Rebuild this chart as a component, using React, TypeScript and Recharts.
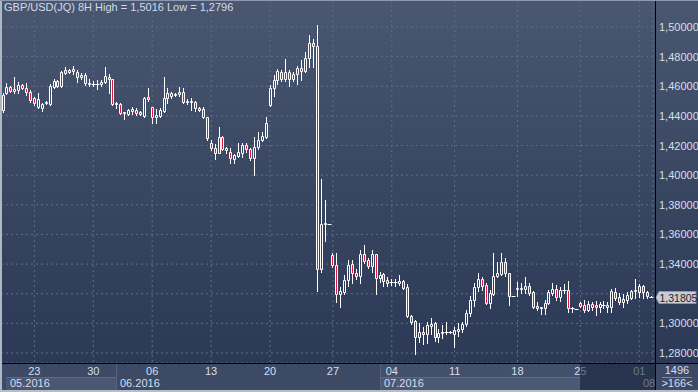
import { ComposedChart, Bar, XAxis, YAxis, CartesianGrid, ReferenceLine } from "recharts"

const FONT = "'Liberation Sans Narrow', 'Arial Narrow', 'Liberation Sans', Arial, sans-serif"

// GBP/USD 8H свечи: open / high / low / close
const opens = [
  1.4440, 1.4555, 1.4595, 1.4568, 1.4575, 1.4608, 1.4588, 1.4561, 1.4521, 1.4460,
  1.4453, 1.4487, 1.4480, 1.4595, 1.4636, 1.4602, 1.4690, 1.4696, 1.4703, 1.4696,
  1.4662, 1.4676, 1.4615, 1.4612, 1.4617, 1.4612, 1.4629, 1.4662, 1.4649, 1.4480,
  1.4480, 1.4420, 1.4413, 1.4433, 1.4440, 1.4427, 1.4400, 1.4527, 1.4460, 1.4393,
  1.4400, 1.4433, 1.4520, 1.4534, 1.4541, 1.4548, 1.4561, 1.4494, 1.4500, 1.4494,
  1.4453, 1.4447, 1.4393, 1.4217, 1.4183, 1.4150, 1.4258, 1.4170, 1.4156, 1.4109,
  1.4129, 1.4150, 1.4204, 1.4177, 1.4116, 1.4190, 1.4237, 1.4258, 1.4473, 1.4588,
  1.4642, 1.4696, 1.4649, 1.4696, 1.4649, 1.4683, 1.4723, 1.4703, 1.4791, 1.4892,
  1.4872, 1.3367, 1.3670, 1.3670, 1.3461, 1.3394, 1.3198, 1.3211, 1.3292, 1.3400,
  1.3340, 1.3319, 1.3468, 1.3427, 1.3387, 1.3468, 1.3306, 1.3333, 1.3292, 1.3279,
  1.3279, 1.3272, 1.3286, 1.3245, 1.3049, 1.3015, 1.2907, 1.2941, 1.2928, 1.2982,
  1.3002, 1.2907, 1.2934, 1.2941, 1.2942, 1.2928, 1.2948, 1.2962, 1.2995, 1.3070,
  1.3157, 1.3245, 1.3299, 1.3259, 1.3137, 1.3198, 1.3319, 1.3333, 1.3414, 1.3340,
  1.3184, 1.3238, 1.3232, 1.3232, 1.3252, 1.3211, 1.3117, 1.3103, 1.3103, 1.3137,
  1.3205, 1.3232, 1.3178, 1.3225, 1.3225, 1.3103, 1.3096, 1.3137, 1.3123, 1.3090,
  1.3130, 1.3123, 1.3110, 1.3123, 1.3123, 1.3110, 1.3211, 1.3178, 1.3144, 1.3157,
  1.3171, 1.3218, 1.3211, 1.3252, 1.3211, 1.3180,
]
const highs = [
  1.4555, 1.4622, 1.4602, 1.4662, 1.4629, 1.4615, 1.4622, 1.4575, 1.4527, 1.4555,
  1.4487, 1.4500, 1.4615, 1.4649, 1.4642, 1.4703, 1.4730, 1.4717, 1.4737, 1.4710,
  1.4690, 1.4690, 1.4649, 1.4636, 1.4642, 1.4642, 1.4730, 1.4683, 1.4652, 1.4494,
  1.4487, 1.4427, 1.4447, 1.4460, 1.4453, 1.4433, 1.4527, 1.4588, 1.4463, 1.4447,
  1.4453, 1.4662, 1.4588, 1.4561, 1.4555, 1.4595, 1.4588, 1.4514, 1.4520, 1.4500,
  1.4460, 1.4460, 1.4396, 1.4237, 1.4210, 1.4325, 1.4264, 1.4190, 1.4183, 1.4143,
  1.4217, 1.4217, 1.4217, 1.4183, 1.4258, 1.4292, 1.4292, 1.4393, 1.4608, 1.4676,
  1.4717, 1.4710, 1.4784, 1.4710, 1.4696, 1.4737, 1.4777, 1.4831, 1.4946, 1.4919,
  1.5016, 1.3974, 1.3832, 1.3672, 1.3475, 1.3475, 1.3245, 1.3326, 1.3427, 1.3427,
  1.3367, 1.3495, 1.3529, 1.3441, 1.3495, 1.3471, 1.3346, 1.3340, 1.3313, 1.3299,
  1.3299, 1.3326, 1.3292, 1.3265, 1.3056, 1.3022, 1.3002, 1.2975, 1.3009, 1.3036,
  1.3009, 1.2962, 1.2988, 1.3009, 1.2948, 1.2975, 1.3002, 1.3009, 1.3090, 1.3184,
  1.3272, 1.3340, 1.3313, 1.3272, 1.3225, 1.3475, 1.3414, 1.3475, 1.3441, 1.3343,
  1.3186, 1.3279, 1.3272, 1.3313, 1.3272, 1.3218, 1.3144, 1.3112, 1.3157, 1.3225,
  1.3272, 1.3259, 1.3245, 1.3265, 1.3286, 1.3110, 1.3098, 1.3144, 1.3157, 1.3150,
  1.3144, 1.3150, 1.3144, 1.3150, 1.3144, 1.3232, 1.3238, 1.3205, 1.3198, 1.3211,
  1.3225, 1.3299, 1.3265, 1.3259, 1.3218, 1.3186,
]
const lows = [
  1.4427, 1.4548, 1.4561, 1.4555, 1.4555, 1.4582, 1.4541, 1.4494, 1.4473, 1.4453,
  1.4433, 1.4480, 1.4473, 1.4588, 1.4595, 1.4595, 1.4683, 1.4690, 1.4683, 1.4629,
  1.4649, 1.4608, 1.4602, 1.4602, 1.4582, 1.4602, 1.4622, 1.4555, 1.4473, 1.4453,
  1.4413, 1.4379, 1.4406, 1.4413, 1.4406, 1.4406, 1.4393, 1.4500, 1.4352, 1.4352,
  1.4393, 1.4427, 1.4487, 1.4520, 1.4534, 1.4534, 1.4487, 1.4480, 1.4440, 1.4433,
  1.4433, 1.4386, 1.4237, 1.4170, 1.4109, 1.4148, 1.4170, 1.4150, 1.4082, 1.4082,
  1.4123, 1.4123, 1.4156, 1.4102, 1.4001, 1.4177, 1.4231, 1.4251, 1.4467, 1.4534,
  1.4615, 1.4636, 1.4636, 1.4602, 1.4636, 1.4615, 1.4642, 1.4696, 1.4730, 1.4730,
  1.3218, 1.3346, 1.3556, 1.3668, 1.3380, 1.3144, 1.3110, 1.3198, 1.3252, 1.3272,
  1.3299, 1.3272, 1.3407, 1.3373, 1.3346, 1.3198, 1.3279, 1.3252, 1.3252, 1.3259,
  1.3252, 1.3259, 1.3232, 1.3042, 1.2996, 1.2796, 1.2874, 1.2860, 1.2867, 1.2928,
  1.2880, 1.2873, 1.2900, 1.2930, 1.2936, 1.2840, 1.2914, 1.2941, 1.2982, 1.3049,
  1.3117, 1.3218, 1.3225, 1.3130, 1.3103, 1.3191, 1.3313, 1.3326, 1.3319, 1.3123,
  1.3182, 1.3184, 1.3205, 1.3205, 1.3191, 1.3103, 1.3090, 1.3063, 1.3063, 1.3130,
  1.3191, 1.3157, 1.3150, 1.3205, 1.3076, 1.3076, 1.3094, 1.3110, 1.3076, 1.3083,
  1.3090, 1.3056, 1.3076, 1.3103, 1.3076, 1.3076, 1.3157, 1.3130, 1.3110, 1.3137,
  1.3164, 1.3171, 1.3178, 1.3171, 1.3171, 1.3176,
]
const closes = [
  1.4540, 1.4595, 1.4568, 1.4582, 1.4608, 1.4588, 1.4561, 1.4507, 1.4487, 1.4514,
  1.4480, 1.4494, 1.4602, 1.4636, 1.4602, 1.4696, 1.4710, 1.4710, 1.4717, 1.4662,
  1.4676, 1.4622, 1.4622, 1.4615, 1.4615, 1.4629, 1.4669, 1.4649, 1.4480, 1.4487,
  1.4420, 1.4425, 1.4440, 1.4447, 1.4420, 1.4413, 1.4520, 1.4514, 1.4393, 1.4406,
  1.4440, 1.4520, 1.4555, 1.4555, 1.4548, 1.4561, 1.4494, 1.4500, 1.4494, 1.4453,
  1.4440, 1.4393, 1.4251, 1.4183, 1.4150, 1.4258, 1.4177, 1.4183, 1.4116, 1.4136,
  1.4156, 1.4204, 1.4177, 1.4116, 1.4190, 1.4237, 1.4264, 1.4352, 1.4588, 1.4642,
  1.4703, 1.4649, 1.4696, 1.4649, 1.4683, 1.4723, 1.4703, 1.4791, 1.4892, 1.4872,
  1.3367, 1.3670, 1.3677, 1.3670, 1.3394, 1.3198, 1.3218, 1.3292, 1.3394, 1.3340,
  1.3319, 1.3468, 1.3420, 1.3387, 1.3468, 1.3306, 1.3326, 1.3286, 1.3272, 1.3280,
  1.3276, 1.3286, 1.3238, 1.3049, 1.3009, 1.2907, 1.2941, 1.2928, 1.2988, 1.2996,
  1.2907, 1.2934, 1.2941, 1.2942, 1.2942, 1.2955, 1.2962, 1.2995, 1.3070, 1.3157,
  1.3245, 1.3299, 1.3252, 1.3137, 1.3205, 1.3319, 1.3340, 1.3414, 1.3340, 1.3184,
  1.3184, 1.3232, 1.3238, 1.3252, 1.3205, 1.3110, 1.3103, 1.3110, 1.3137, 1.3211,
  1.3232, 1.3178, 1.3225, 1.3226, 1.3103, 1.3102, 1.3096, 1.3117, 1.3090, 1.3130,
  1.3110, 1.3110, 1.3130, 1.3124, 1.3110, 1.3218, 1.3171, 1.3144, 1.3164, 1.3191,
  1.3218, 1.3225, 1.3252, 1.3211, 1.3184, 1.31805,
]

// подписи оси времени (индекс свечи -> число месяца)
const dateTickIdx = [8, 23, 38, 53, 68, 84, 99, 115, 131, 147, 162]
const dateTickLabels = ["23", "30", "06", "13", "20", "27", "04", "11", "18", "25", "01"]
const priceTicks = [1.28, 1.3, 1.32, 1.34, 1.36, 1.38, 1.4, 1.42, 1.44, 1.46, 1.48, 1.5]

const lastPrice = 1.31805
const totalBars = 1496
const shownBars = 166

const data = opens.map((o, i) => ({ i, o, h: highs[i], l: lows[i], c: closes[i] }))

const fmt = (v: number) => v.toFixed(5).replace(".", ",")

const TXT = "#d6dfec"
const RED = "#e2173d"
const PLOT_RIGHT = 653

// свеча рисуется поверх диапазона low..high, который считает сам Bar
const Candle = (props: any) => {
  const { x, y, width, height, payload } = props
  if (x == null || y == null) return null
  const { o, h, l, c } = payload
  const k = h > l ? height / (h - l) : 0
  const yOf = (v: number) => y + (h - v) * k
  const left = Math.round(x + width / 2 - 1.5)
  const mid = left + 1.5
  const yHigh = Math.round(y)
  const yLow = Math.round(y + height)
  const top = Math.round(yOf(Math.max(o, c)))
  const bot = Math.round(yOf(Math.min(o, c)))
  const up = c >= o

  if (bot - top < 1) {
    return (
      <g>
        <line x1={mid} x2={mid} y1={yHigh} y2={yLow + 1} stroke="#fff" strokeWidth={1} />
        <line x1={left - 0.5} x2={left + 3.5} y1={top + 0.5} y2={top + 0.5} stroke="#fff" strokeWidth={1} />
      </g>
    )
  }
  return (
    <g>
      <line x1={mid} x2={mid} y1={yHigh} y2={top} stroke="#fff" strokeWidth={1} />
      <line x1={mid} x2={mid} y1={bot + 1} y2={yLow + 1} stroke="#fff" strokeWidth={1} />
      <path
        d={`M${left + 0.5},${top + 0.5}H${left + 2.5}V${bot + 0.5}H${left + 0.5}Z`}
        fill={up ? "none" : RED}
        stroke="#fff"
        strokeWidth={1}
      />
    </g>
  )
}

const DateTick = (props: any) => {
  const { x, y, payload } = props
  const k = dateTickIdx.indexOf(payload.value)
  if (k < 0) return null
  return (
    <text x={x} y={y + 12} textAnchor="middle" fill={TXT} fontSize={11} fontFamily={FONT}>
      {dateTickLabels[k]}
    </text>
  )
}

// подпись под ярлыком последней цены не видна
const PriceTick = (props: any) => {
  const { x, y, payload } = props
  if (Math.abs(payload.value - lastPrice) < 0.004) return null
  return (
    <text x={x} y={y + 4} textAnchor="start" fill={TXT} fontSize={11} fontFamily={FONT}>
      {fmt(payload.value)}
    </text>
  )
}

const PriceTag = (props: any) => {
  const vb = props.viewBox
  if (!vb) return null
  const x0 = PLOT_RIGHT
  const y = Math.round(vb.y) + 0.5
  return (
    <g>
      <path
        d={`M${x0 + 3},${y} L${x0 + 6},${y - 6} H${x0 + 43} V${y + 6} H${x0 + 6} Z`}
        fill="#c9ccd2"
        stroke="#8e97a6"
        strokeWidth={1}
      />
      <text x={x0 + 6.5} y={y + 4} fill="#1c2435" fontSize={10.5} fontFamily={FONT}>
        {fmt(lastPrice)}
      </text>
    </g>
  )
}

export default function App() {
  return (
    <div
      style={{
        position: "fixed",
        left: 0,
        top: 0,
        width: 698,
        height: 392,
        overflow: "hidden",
        background: "linear-gradient(180deg, #4a5771 0%, #3a4762 45%, #2a3755 100%)",
        fontFamily: FONT,
      }}
    >
      {/* нижняя панель времени */}
      <div style={{ position: "absolute", left: 0, top: 363, width: 698, height: 29, background: "#3d4a66" }} />
      <div style={{ position: "absolute", left: 380, top: 364, width: 200, height: 26, background: "#43506c" }} />
      <div style={{ position: "absolute", left: 6, top: 377, width: 110, height: 13, background: "#4a5672", borderTop: "1px solid #5e6a85", boxSizing: "border-box" }} />
      <div style={{ position: "absolute", left: 380, top: 377, width: 200, height: 13, background: "#4c5975", borderTop: "1px solid #5e6a85", boxSizing: "border-box" }} />
      <div style={{ position: "absolute", left: 116, top: 364, width: 1, height: 26, background: "#58647e" }} />
      <div style={{ position: "absolute", left: 380, top: 364, width: 1, height: 26, background: "#58647e" }} />

      <div style={{ position: "absolute", left: 0, top: 0 }}>
        <ComposedChart width={698} height={392} data={data} margin={{ top: 0, right: 0, bottom: 0, left: 1 }} barCategoryGap={0}>
          <CartesianGrid stroke="#5f6d8a" strokeDasharray="2 3" />
          <XAxis
            dataKey="i"
            type="category"
            ticks={dateTickIdx}
            interval={0}
            height={29}
            tickLine={false}
            axisLine={false}
            tickSize={0}
            tickMargin={0}
            tick={<DateTick />}
          />
          <YAxis
            orientation="right"
            type="number"
            width={45}
            domain={[1.27325, 1.51822]}
            allowDataOverflow
            ticks={priceTicks}
            interval={0}
            tickLine={false}
            axisLine={false}
            tickSize={0}
            tickMargin={6}
            tick={<PriceTick />}
          />
          <Bar dataKey={(d: any) => [d.l, d.h]} shape={<Candle />} isAnimationActive={false} />
          <ReferenceLine y={lastPrice} stroke="none" ifOverflow="visible" label={<PriceTag />} />
        </ComposedChart>
      </div>

      {/* рамки и разделители */}
      <div style={{ position: "absolute", left: 655, top: 0, width: 1, height: 392, background: "#000" }} />
      <div style={{ position: "absolute", left: 0, top: 363, width: 698, height: 1, background: "#000" }} />

      <div style={{ position: "absolute", left: 4, top: 1, fontSize: 11, color: "#d2dbe8", whiteSpace: "nowrap" }}>
        GBP/USD(JQ) 8H High = 1,5016 Low = 1,2796
      </div>

      <div style={{ position: "absolute", left: 10, top: 377, fontSize: 11, color: TXT }}>05.2016</div>
      <div style={{ position: "absolute", left: 120, top: 377, fontSize: 11, color: TXT }}>06.2016</div>
      <div style={{ position: "absolute", left: 384, top: 377, fontSize: 11, color: TXT }}>07.2016</div>
      <div style={{ position: "absolute", left: 643, top: 377, fontSize: 11, color: TXT }}>08.</div>

      {/* затемнённая область прокрутки */}
      <div style={{ position: "absolute", left: 580, top: 364, width: 75, height: 26, background: "rgba(24,34,56,0.55)", borderLeft: "1px solid #2b3652", boxSizing: "border-box" }} />

      <div style={{ position: "absolute", left: 656, top: 364, width: 42, height: 26, background: "#3d4a66" }} />
      <div style={{ position: "absolute", left: 656, top: 364, width: 42, textAlign: "center", fontSize: 11, color: TXT }}>{totalBars}</div>
      <div style={{ position: "absolute", left: 662, top: 377, width: 30, height: 1, background: "#7c889e" }} />
      <div style={{ position: "absolute", left: 656, top: 377, width: 42, textAlign: "center", fontSize: 11, color: TXT }}>{`>${shownBars}<`}</div>

      <div style={{ position: "absolute", left: 0, top: 0, width: 2, height: 392, background: "#aeb7c3" }} />
      <div style={{ position: "absolute", left: 0, top: 0, width: 698, height: 1, background: "#8d98ac" }} />
      <div style={{ position: "absolute", left: 0, top: 390, width: 698, height: 2, background: "#b6bec9" }} />
    </div>
  )
}
